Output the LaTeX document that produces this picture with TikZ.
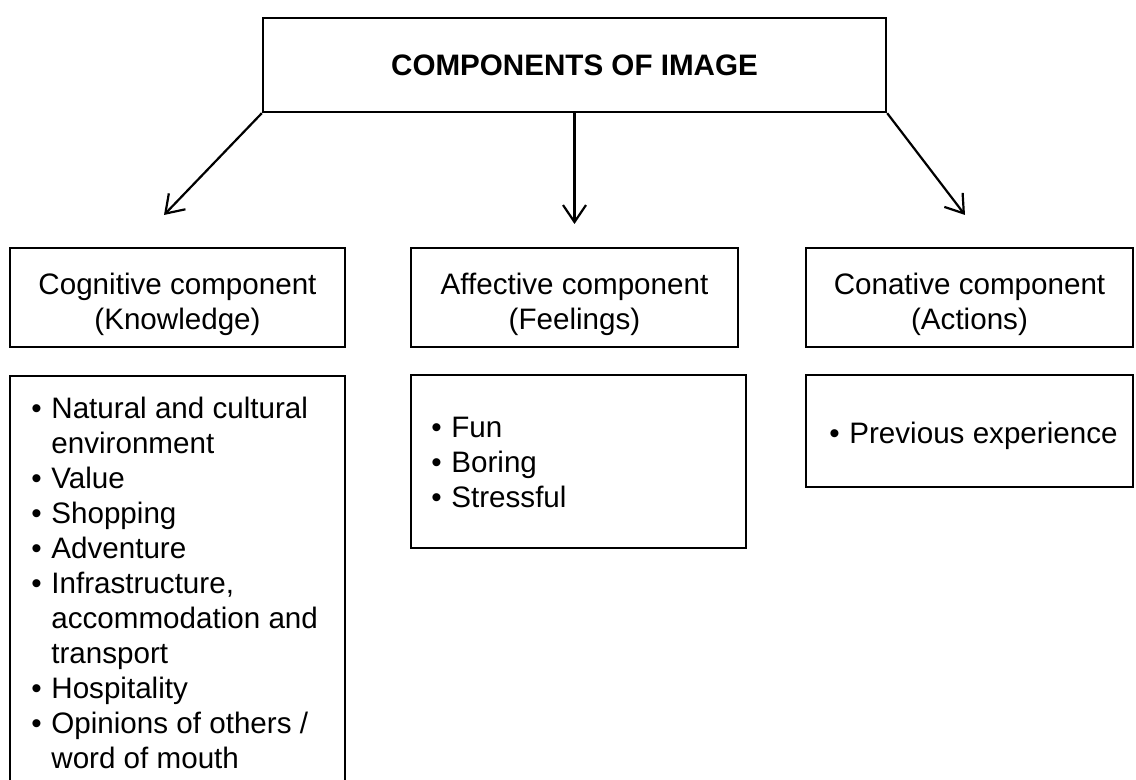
\documentclass[tikz,border=0pt]{standalone}
\usepackage{fontspec}
\setmainfont{Liberation Sans}
\usetikzlibrary{arrows.meta}
% bullet followed by its hanging gap, and the matching indent for run-on lines
\newcommand\bul{\makebox[10pt][l]{\textbullet}}
\newcommand\hang{\hspace*{10pt}}
\begin{document}
\begin{tikzpicture}[x=0.5pt,y=-0.5pt,
  font=\fontsize{14.8}{17.5}\selectfont,
  box/.style={draw,line width=1.2pt,inner sep=0pt},
  head/.style={inner sep=0pt,align=center},
  list/.style={inner sep=0pt,align=left,anchor=north west},
  arr/.style={line width=1.1pt,-{Straight Barb[length=8.5pt,width=11.5pt,line width=1.1pt]}}]
\useasboundingbox (0,0) rectangle (1136,780);

% title box
\node[box,minimum width={623*0.5pt},minimum height={94*0.5pt},font=\fontsize{14.8}{17.5}\selectfont\bfseries]
  (top) at (574.5,65) {COMPONENTS OF IMAGE};

% component headers
\node[box,minimum width={335*0.5pt},minimum height={99*0.5pt}] (cog) at (177.5,297.5) {};
\node[box,minimum width={327*0.5pt},minimum height={99*0.5pt}] (aff) at (574.5,297.5) {};
\node[box,minimum width={327*0.5pt},minimum height={99*0.5pt}] (con) at (969.5,297.5) {};
\node[head] (cogText) at ([yshift=-3.2pt]cog.center) {Cognitive component\\(Knowledge)};
\node[head] (affText) at ([yshift=-3.2pt]aff.center) {Affective component\\(Feelings)};
\node[head] (conText) at ([yshift=-3.2pt]con.center) {Conative component\\(Actions)};

% arrows from the title to the headers
\coordinate (tL) at (164,215);
\coordinate (tM) at (574.5,224);
\coordinate (tR) at (965,215);
\draw[arr] (top.south west) -- (tL);
\draw[arr] (top.south) -- (tM);
\draw[arr] (top.south east) -- (tR);

% detail boxes (the knowledge box runs off the foot of the page)
\coordinate (cogTL) at (10,376);
\coordinate (cogTR) at (345,376);
\draw[line width=1.2pt] (cogTL |- 0,790) -- (cogTL) -- (cogTR) -- (cogTR |- 0,790);
\node[box,minimum width={335*0.5pt},minimum height={173*0.5pt}] (affL) at (578.5,461.5) {};
\node[box,minimum width={327*0.5pt},minimum height={112*0.5pt}] (conL) at (969.5,431) {};

% detail lists
\node[list] (cogItems) at (31,397) {%
  \bul Natural and cultural\\
  \hang environment\\
  \bul Value\\
  \bul Shopping\\
  \bul Adventure\\
  \bul Infrastructure,\\
  \hang accommodation and\\
  \hang transport\\
  \bul Hospitality\\
  \bul Opinions of others /\\
  \hang word of mouth};
\node[list] (affItems) at (431,417) {%
  \bul Fun\\
  \bul Boring\\
  \bul Stressful};
\node[list] (conItems) at (829,422) {\bul Previous experience};
\end{tikzpicture}
\end{document}
